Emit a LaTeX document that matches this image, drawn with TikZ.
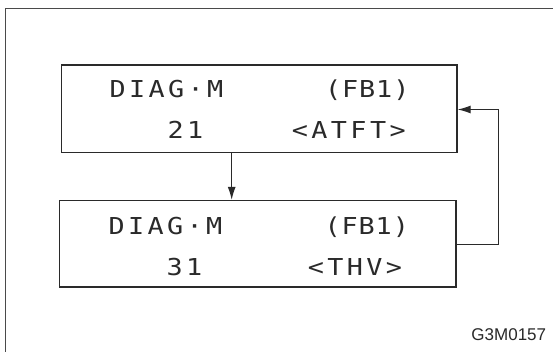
\documentclass[tikz,border=0pt]{standalone}
\usepackage{fontspec}
\usetikzlibrary{arrows.meta}
\newfontfamily\lcdwide[FakeStretch=1.15,LetterSpace=14.6]{DejaVu Sans Mono}
\newfontfamily\lcdnarrow[FakeStretch=1.15,LetterSpace=4]{DejaVu Sans Mono}
\newfontfamily\labelfont{Liberation Sans}
\definecolor{ink}{HTML}{2A2A2A}
\begin{document}
\begin{tikzpicture}[x=1pt,y=-1pt,
  frameline/.style={draw=ink!85,line width=1pt},
  screen/.style={draw=ink,line width=1.3pt,inner sep=0pt,rectangle},
  lcdtext/.style={text=ink,inner sep=0pt,anchor=base,font=\lcdwide\fontsize{23.3}{28}\selectfont},
  lcdtight/.style={text=ink,inner sep=0pt,anchor=base,font=\lcdnarrow\fontsize{23.3}{28}\selectfont},
  flow/.style={draw=ink,line width=1.1pt,-{Latex[length=13pt,width=8pt]}},
  code/.style={text=ink,inner sep=0pt,anchor=base,font=\labelfont\fontsize{17}{20}\selectfont}]
\useasboundingbox (0,0) rectangle (553,352);
\fill[white] (0,0) rectangle (553,352);
\draw[frameline] (5.5,8.5) rectangle (620,420);
% screens
\node[screen,minimum width=395.5pt,minimum height=87.5pt] (b1) at (259.25,108.75) {};
\node[screen,minimum width=396.5pt,minimum height=86.5pt] (b2) at (257.75,243.75) {};
% texts of screen 1
\node[lcdtext] (t11) at (166.5,97.7) {DIAG·M};
\node[lcdtight] (t12) at (367.2,97.7) {(FB1)};
\node[lcdtext] (t13) at (185.5,138.5) {21};
\node[lcdtext] (t14) at (348.8,138.5) {<ATFT>};
% texts of screen 2
\node[lcdtext] (t21) at (165.5,235) {DIAG·M};
\node[lcdtight] (t22) at (366.7,235) {(FB1)};
\node[lcdtext] (t23) at (184.4,275.5) {31};
\node[lcdtext] (t24) at (355,275.5) {<THV>};
% connectors
\coordinate (dx) at (231.7,0);
\coordinate (r1) at (498.5,244.3);
\coordinate (r2) at (498.5,109.5);
\draw[flow] (b1.south -| dx) -- (b2.north -| dx);
\draw[flow] (b2.east |- r1) -- (r1) -- (r2) -- (b1.east |- r2);
% figure code
\node[code] (fig) at (508.8,340) {G3M0157};
\end{tikzpicture}
\end{document}
